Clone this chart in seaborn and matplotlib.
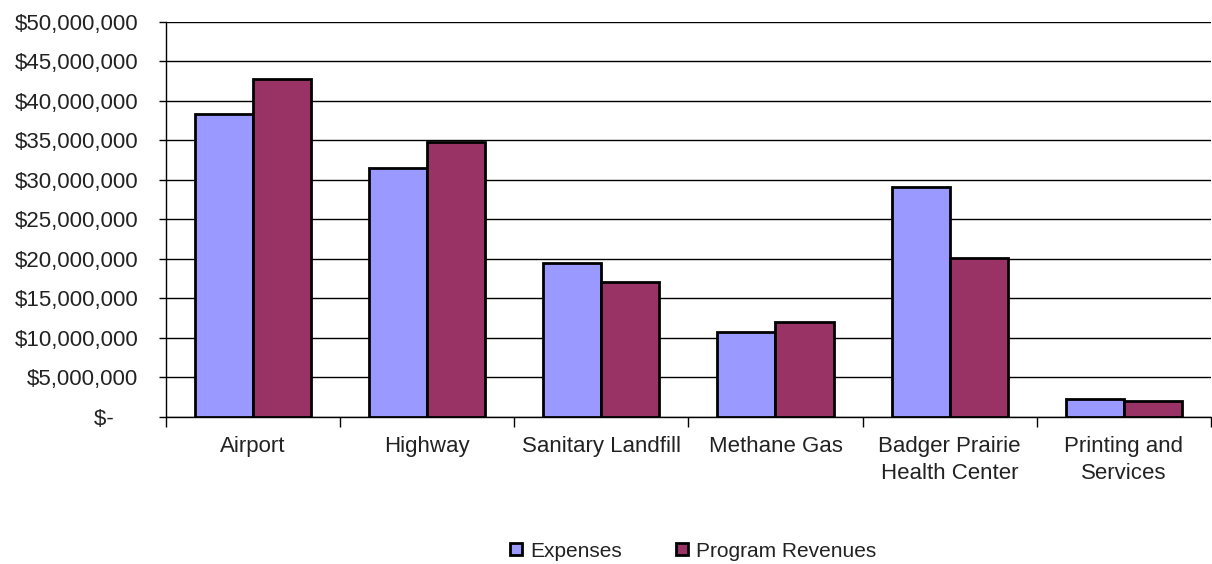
import matplotlib
matplotlib.use("Agg")
import matplotlib.pyplot as plt
import seaborn as sns
import pandas as pd
from matplotlib.ticker import FuncFormatter, FixedLocator
from matplotlib.patches import Patch

categories = ["Airport", "Highway", "Sanitary Landfill", "Methane Gas",
              "Badger Prairie\nHealth Center", "Printing and\nServices"]
expenses = [38_350_000, 31_500_000, 19_500_000, 10_800_000, 29_100_000, 2_200_000]
revenues = [42_800_000, 34_800_000, 17_050_000, 11_950_000, 20_100_000, 2_000_000]
series = ["Expenses", "Program Revenues"]
colors = ["#9999FF", "#993366"]

df = pd.DataFrame({
    "category": categories * 2,
    "value": expenses + revenues,
    "series": [series[0]] * len(categories) + [series[1]] * len(categories),
})

sns.set_style("white")
plt.rcParams["font.family"] = ["Liberation Sans", "DejaVu Sans"]

fig = plt.figure(figsize=(12.12, 5.64), dpi=100)
ax = fig.add_axes([0.137, 0.261, 0.862, 0.700])

sns.barplot(data=df, x="category", y="value", hue="series", palette=colors,
            width=0.667, edgecolor="black", linewidth=2, saturation=1,
            ax=ax, legend=False, zorder=3)

ax.set_ylim(0, 50_000_000)
ax.set_xlim(-0.5, len(categories) - 0.5)
ax.yaxis.set_major_locator(FixedLocator(range(0, 50_000_001, 5_000_000)))

def fmt(v, pos):
    if v == 0:
        return "$-    "
    return "${:,.0f}".format(v)

ax.yaxis.set_major_formatter(FuncFormatter(fmt))
ax.grid(axis="y", color="black", linewidth=1, zorder=0)
ax.grid(axis="x", visible=False)
ax.set_axisbelow(True)

for s in ["top", "right"]:
    ax.spines[s].set_visible(False)
ax.spines["left"].set_color("black")
ax.spines["bottom"].set_color("black")
ax.spines["left"].set_linewidth(1)
ax.spines["bottom"].set_linewidth(1)

ax.tick_params(axis="y", which="major", left=True, length=5, width=1,
               color="black", labelsize=16, labelcolor="#222222", pad=15)
ax.set_xticks(range(len(categories)))
ax.set_xticklabels(categories, linespacing=1.4)
ax.tick_params(axis="x", which="major", bottom=False, labelsize=16,
               labelcolor="#222222", pad=10)
ax.set_xticks([i + 0.5 for i in range(-1, len(categories))], minor=True)
ax.tick_params(axis="x", which="minor", bottom=True, length=7, width=1, color="black")
ax.set_xlabel("")
ax.set_ylabel("")

handles = [Patch(facecolor=c, edgecolor="black", linewidth=2, label=s)
           for c, s in zip(colors, series)]
fig.legend(handles=handles, loc="center", bbox_to_anchor=(0.572, 0.023),
           ncol=2, frameon=False, fontsize=15, handlelength=0.55,
           handleheight=0.55, handletextpad=0.4, columnspacing=2.6,
           labelcolor="#222222")

fig.savefig("out.png", dpi=100, facecolor="white")
